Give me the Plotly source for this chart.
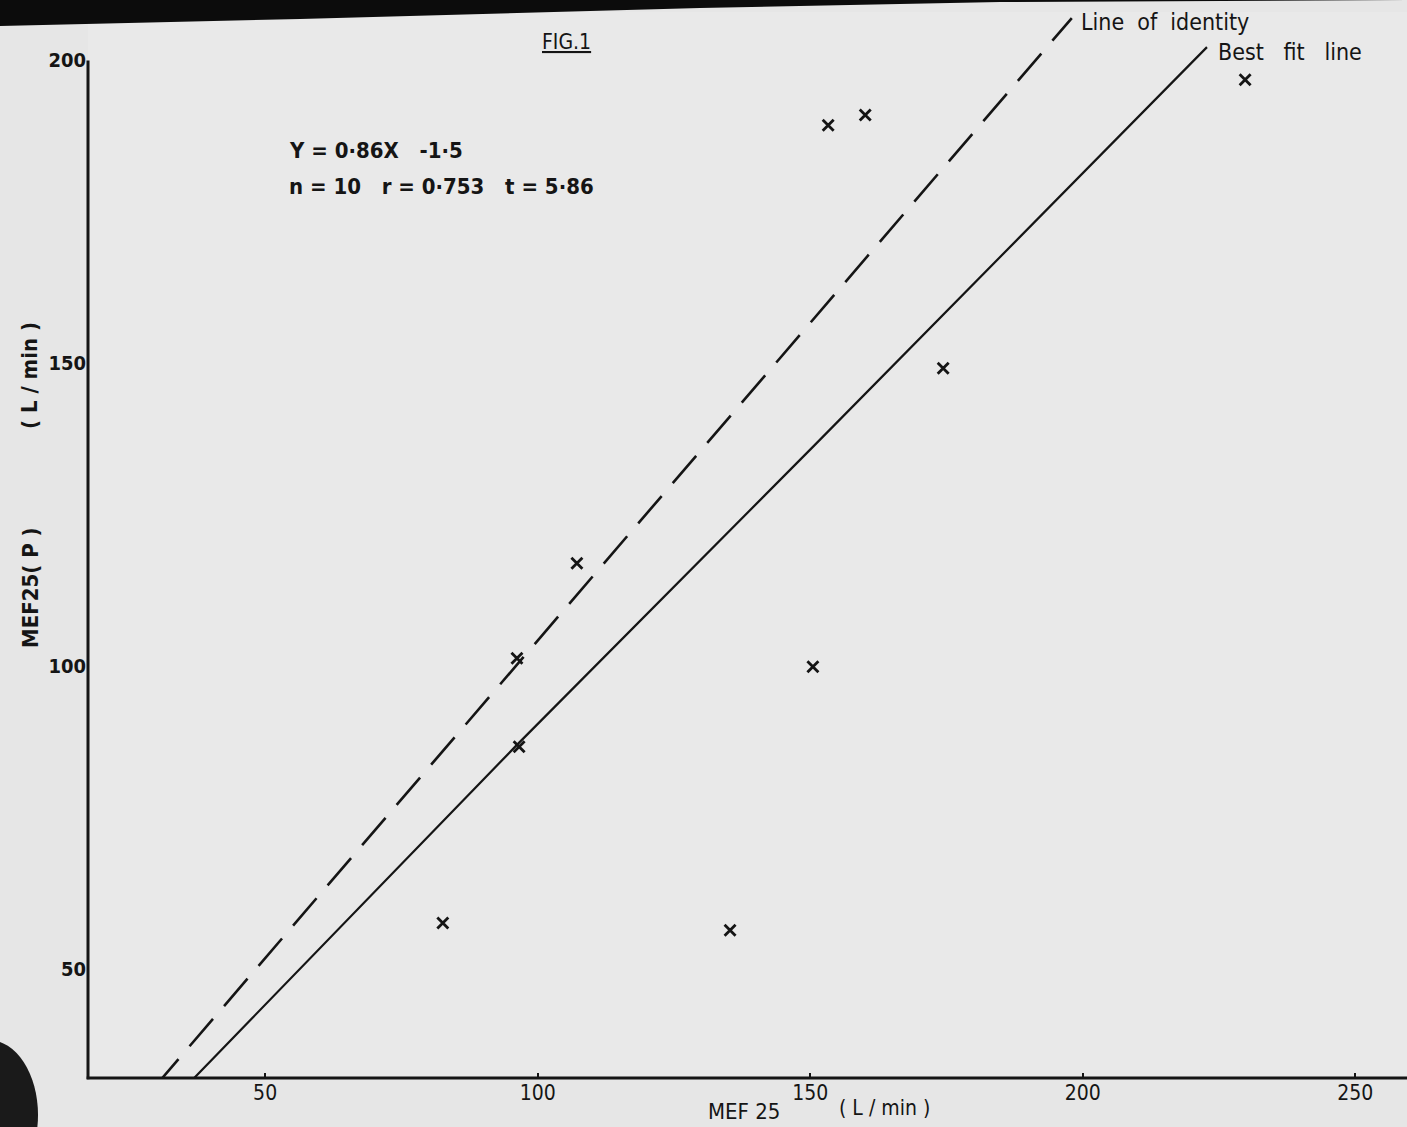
import plotly.graph_objects as go

# ---- data ----
mef25_x = [82.6, 135.3, 150.5, 107.2, 96.2, 96.6, 153.3, 160.1, 174.4, 229.8]
mef25p_y = [57.6, 56.4, 99.9, 117.0, 101.3, 86.7, 189.3, 191.0, 149.2, 196.8]

identity_x = [29.8, 198.0]
identity_y = [30.6, 207.0]

bestfit_x = [35.8, 96.2, 150.5, 222.8]
bestfit_y = [30.9, 87.0, 136.2, 202.2]

x_ticks = [50, 100, 150, 200, 250]
y_ticks = [50, 100, 150, 200]

X_RANGE = [17.5, 259.5]
Y_RANGE = [32, 208]
Y_AXIS_TOP = 200

W, H = 1407, 1127
ML, MR, MT, MB = 88, 0, 12, 49
PW, PH = W - ML - MR, H - MT - MB

def px(x):
    return (x - ML) / PW

def py(y):
    return (H - MB - y) / PH

FONT = "DejaVu Sans Condensed, Liberation Sans Narrow, DejaVu Sans, sans-serif"
INK = "#151515"
NB = "\u00a0"

fig = go.Figure()

fig.add_trace(go.Scatter(
    x=identity_x, y=identity_y, mode="lines",
    line=dict(color=INK, width=2.6, dash="36px,17px"),
    showlegend=False, hoverinfo="skip"))

fig.add_trace(go.Scatter(
    x=bestfit_x, y=bestfit_y, mode="lines",
    line=dict(color=INK, width=2.2),
    showlegend=False, hoverinfo="skip"))

fig.add_trace(go.Scatter(
    x=mef25_x, y=mef25p_y, mode="markers",
    marker=dict(symbol="x-thin-open", size=11, color=INK,
                line=dict(color=INK, width=2.8)),
    showlegend=False))

# axis lines (paper refs so they are not clipped)
y_top_frac = (Y_AXIS_TOP - Y_RANGE[0]) / (Y_RANGE[1] - Y_RANGE[0])
fig.add_shape(type="line", xref="paper", yref="paper", x0=0, x1=0,
              y0=-0.0012, y1=y_top_frac, line=dict(color=INK, width=3))
fig.add_shape(type="line", xref="paper", yref="paper", x0=-0.001, x1=1,
              y0=0, y1=0, line=dict(color=INK, width=3))

# scan artefacts: dark top edge and corner shadow
fig.add_shape(type="path", xref="paper", yref="paper",
              path=f"M {px(0)} {py(0)} L {px(1407)} {py(0)} L {px(1000)} {py(2)} "
                   f"L {px(700)} {py(8)} L {px(300)} {py(19)} L {px(0)} {py(26)} Z",
              fillcolor="#0c0c0c", line=dict(width=0), layer="above")
fig.add_shape(type="circle", xref="paper", yref="paper",
              x0=px(-60), x1=px(38), y0=py(1040), y1=py(1190),
              fillcolor="#1a1a1a", line=dict(width=0), layer="above")

def note(text, x, y, size, xanchor="left", bold=False, angle=0):
    fig.add_annotation(
        text=f"<b>{text}</b>" if bold else text,
        xref="paper", yref="paper", x=px(x), y=py(y),
        xanchor=xanchor, yanchor="middle", showarrow=False, textangle=angle,
        font=dict(family=FONT, size=size, color=INK))

sp = lambda s: s.replace(" ", NB)

note("<u>FIG.1</u>", 566, 42, 21, xanchor="center")
note(sp("Y = 0·86X   -1·5"), 287, 150, 22, bold=True)
note(sp("n = 10   r = 0·753   t = 5·86"), 287, 186, 22, bold=True)
note(sp("Line  of  identity"), 1079, 22, 23)
note(sp("Best   fit   line"), 1216, 52, 23)
note(sp("MEF25( P )"), 30, 588, 22, xanchor="center", bold=True, angle=-90)
note(sp("( L / min )"), 30, 376, 22, xanchor="center", bold=True, angle=-90)
note(sp("MEF 25"), 744, 1111, 22, xanchor="center")
note(sp("( L / min )"), 884, 1108, 21, xanchor="center")

fig.update_layout(
    width=W, height=H,
    margin=dict(l=ML, r=MR, t=MT, b=MB),
    paper_bgcolor="#e6e6e6", plot_bgcolor="#e9e9e9",
    xaxis=dict(range=X_RANGE, tickvals=x_ticks, ticktext=[str(v) for v in x_ticks],
               showgrid=False, zeroline=False, showline=False,
               ticks="inside", ticklen=5, tickwidth=1.5, tickcolor=INK,
               tickfont=dict(family=FONT, size=21, color=INK)),
    yaxis=dict(range=Y_RANGE, tickvals=y_ticks,
               ticktext=[f"<b>{v}</b>" for v in y_ticks],
               showgrid=False, zeroline=False, showline=False, ticks="",
               ticklabelstandoff=1,
               tickfont=dict(family=FONT, size=20, color=INK)),
)

fig.write_html("out.html")
